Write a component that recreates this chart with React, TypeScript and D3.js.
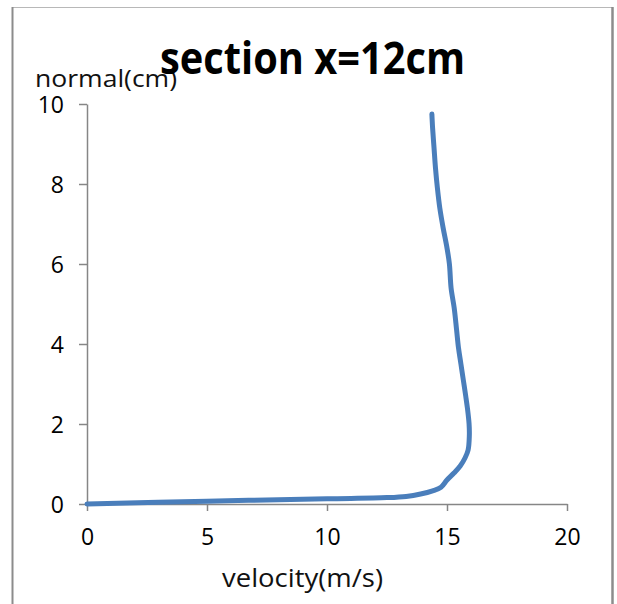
import React, { useEffect, useRef } from "react";
import * as d3 from "d3";

const velocity = [0, 5, 10, 12.5, 13.3, 13.9, 14.4, 14.75, 15.0, 15.3, 15.55, 15.75, 15.88, 15.93, 15.92, 15.85, 15.78, 15.68, 15.58, 15.48, 15.4, 15.3, 15.17, 15.1, 15.0, 14.84, 14.7, 14.6, 14.52, 14.46, 14.4, 14.37];
const normal = [0, 0.07, 0.13, 0.16, 0.19, 0.25, 0.33, 0.42, 0.6, 0.78, 0.95, 1.15, 1.35, 1.7, 2.0, 2.4, 2.7, 3.1, 3.5, 3.9, 4.35, 4.9, 5.4, 6.0, 6.4, 6.9, 7.4, 7.9, 8.4, 8.9, 9.4, 9.75];
const xTicks = [0, 5, 10, 15, 20];
const yTicks = [0, 2, 4, 6, 8, 10];
const title = "section x=12cm";
const xTitle = "velocity(m/s)";
const yTitle = "normal(cm)";

const W = 617;
const H = 604;
const FONT = "'Open Sans', 'DejaVu Sans', sans-serif";

export default function App() {
  const ref = useRef<SVGSVGElement>(null);

  useEffect(() => {
    const svg = d3.select(ref.current);
    svg.selectAll("*").remove();

    const x = d3.scaleLinear().domain([0, 20]).range([87, 567]);
    const y = d3.scaleLinear().domain([0, 10]).range([504, 104]);

    svg.append("rect").attr("x", 0).attr("y", 0).attr("width", W).attr("height", H).attr("fill", "#fff");

    // chart border
    svg.append("line").attr("x1", 12).attr("x2", 613).attr("y1", 7.5).attr("y2", 7.5)
      .attr("stroke", "#b8b8b8").attr("stroke-width", 1.2);
    svg.append("line").attr("x1", 12.5).attr("x2", 12.5).attr("y1", 7).attr("y2", H)
      .attr("stroke", "#8c8c8c").attr("stroke-width", 2);
    svg.append("line").attr("x1", 612.5).attr("x2", 612.5).attr("y1", 7).attr("y2", H)
      .attr("stroke", "#8c8c8c").attr("stroke-width", 2.5);

    // axes
    const axisColor = "#868686";
    const gx = svg.append("g").attr("transform", `translate(0,${y(0)})`)
      .call(d3.axisBottom(x).tickValues(xTicks).tickSize(7).tickSizeOuter(0).tickPadding(13).tickFormat(d3.format("d")));
    const gy = svg.append("g").attr("transform", `translate(${x(0)},0)`)
      .call(d3.axisLeft(y).tickValues(yTicks).tickSize(8).tickSizeOuter(0).tickPadding(15).tickFormat(d3.format("d")));
    [gx, gy].forEach((g) => {
      g.select(".domain").attr("stroke", axisColor).attr("stroke-width", 1.5);
      g.selectAll(".tick line").attr("stroke", axisColor).attr("stroke-width", 1.5);
      g.selectAll(".tick text").attr("fill", "#000").attr("font-family", FONT).attr("font-size", 23);
    });
    gx.selectAll(".tick text").attr("dy", "0.9em");
    gy.selectAll(".tick text").attr("dy", "0.36em");

    // line
    const pts = velocity.map((v, i) => [v, normal[i]] as [number, number]);
    const line = d3.line<[number, number]>()
      .x((d) => x(d[0]))
      .y((d) => y(d[1]))
      .curve(d3.curveCatmullRom.alpha(0.5));
    svg.append("path").datum(pts).attr("d", line)
      .attr("fill", "none").attr("stroke", "#4a7ebb").attr("stroke-width", 5)
      .attr("stroke-linecap", "round").attr("stroke-linejoin", "round");

    // texts
    svg.append("text").attr("x", 35).attr("y", 87).text(yTitle)
      .attr("font-family", FONT).attr("font-size", 24).attr("fill", "#111")
      .attr("textLength", 142).attr("lengthAdjust", "spacingAndGlyphs");
    svg.append("text").attr("x", 160).attr("y", 74).text(title)
      .attr("font-family", FONT).attr("font-weight", "bold").attr("font-size", 44).attr("fill", "#000")
      .attr("textLength", 305).attr("lengthAdjust", "spacingAndGlyphs");
    svg.append("text").attr("x", 222).attr("y", 587).text(xTitle)
      .attr("font-family", FONT).attr("font-size", 26).attr("fill", "#111")
      .attr("textLength", 161).attr("lengthAdjust", "spacingAndGlyphs");
  }, []);

  return (
    <svg ref={ref} width={W} height={H} style={{ position: "absolute", left: 0, top: 0 }} />
  );
}
